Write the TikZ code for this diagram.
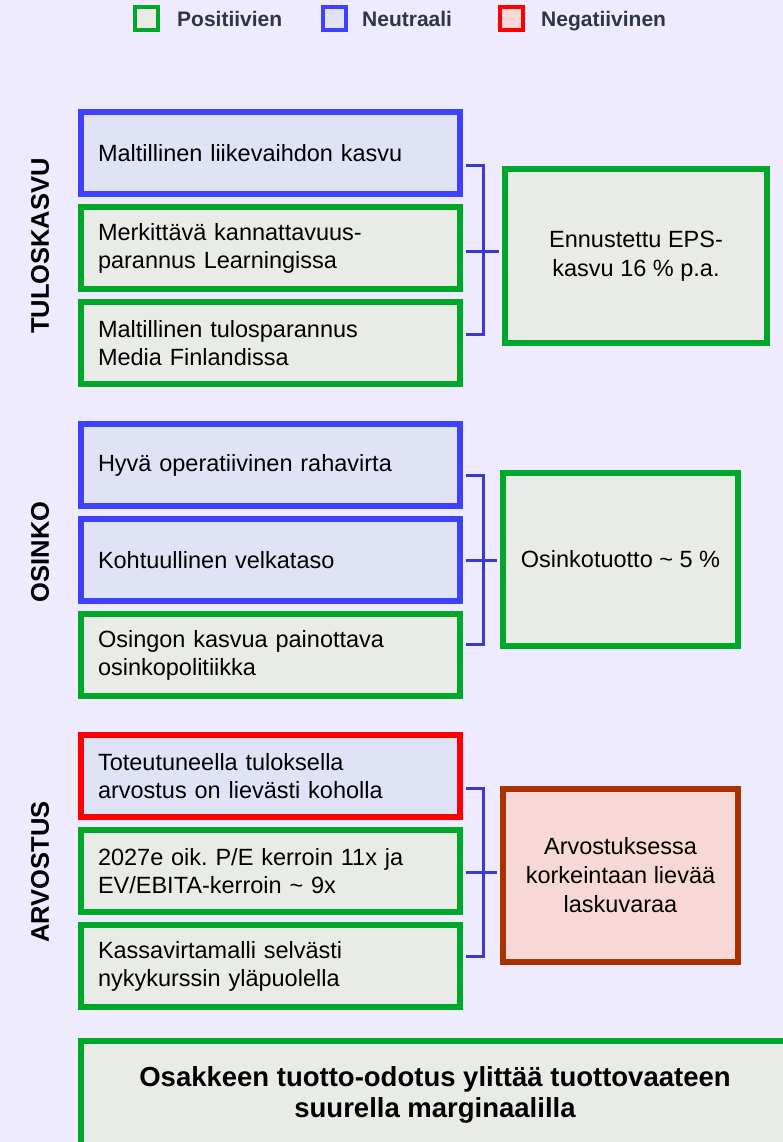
\documentclass[tikz,border=0pt]{standalone}
\usepackage{fontspec}
\setmainfont{Liberation Sans}
\usetikzlibrary{positioning}
\frenchspacing

\definecolor{bgcol}{HTML}{EDEBFD}
\definecolor{posline}{HTML}{00A82A}
\definecolor{posfill}{HTML}{E9ECE6}
\definecolor{neuline}{HTML}{4040FF}
\definecolor{neufill}{HTML}{E0E3F5}
\definecolor{negline}{HTML}{FF0000}
\definecolor{negfill}{HTML}{F8D8D6}
\definecolor{resline}{HTML}{A83200}
\definecolor{linkcol}{HTML}{3A3AD0}
\definecolor{legtext}{HTML}{2F3541}

\begin{document}
\begin{tikzpicture}[
      x=1pt, y=-1pt, node distance=95pt, on grid,
      fact/.style={rectangle, line width=6pt, minimum width=379pt, minimum height=82pt,
        text width=345pt, inner xsep=17pt, align=left, font=\fontsize{23.5}{28}\selectfont},
      posbox/.style={fact, draw=posline, fill=posfill},
      neubox/.style={fact, draw=neuline, fill=neufill},
      negbox/.style={fact, draw=negline, fill=neufill},
      result/.style={rectangle, line width=6pt, minimum width=235pt, minimum height=173pt,
        align=center, draw=posline, fill=posfill, font=\fontsize{23.5}{29}\selectfont},
      side/.style={rotate=90, font=\fontsize{25.5}{28}\selectfont\bfseries},
      legbox/.style={rectangle, line width=4pt, minimum size=23pt, inner sep=0pt},
      legtxt/.style={anchor=base west, inner sep=0pt, text=legtext, font=\fontsize{21}{24}\selectfont\bfseries},
      link/.style={draw=linkcol, line width=3pt, shorten <=3pt, shorten >=3pt},
      ]

      \fill[bgcol] (0,0) rectangle (783,1142);
      \useasboundingbox (0,0) rectangle (783,1142);
      \clip (0,0) rectangle (783,1142);

      % legend
      \node[legbox, draw=posline, fill=posfill] (lpos) at (146.5,18.5) {};
      \node[legtxt] (lpostxt) at (177,26.5) {Positiivien};
      \node[legbox, draw=neuline, fill=neufill] (lneu) at (334,18.5) {};
      \node[legtxt] (lneutxt) at (362,26.5) {Neutraali};
      \node[legbox, draw=negline, fill=negfill] (lneg) at (511.5,18.5) {};
      \node[legtxt] (lnegtxt) at (541,26.5) {Negatiivinen};

      % tuloskasvu
      \node[neubox] (kas1) at (270.5,153) {Maltillinen liikevaihdon kasvu};
      \node[posbox] (kas2) [below=of kas1] {Merkittävä kannattavuus-\\parannus Learningissa};
      \node[posbox] (kas3) [below=of kas2] {Maltillinen tulosparannus\\Media Finlandissa};
      \node[result, minimum width=262pt] (eps) at (636,256) {Ennustettu EPS-\\kasvu 16 \% p.a.};
      \node[side] (tulos) at (40,246) {TULOSKASVU};

      % osinko
      \node[neubox] (osi1) at (270.5,465) {Hyvä operatiivinen rahavirta};
      \node[neubox] (osi2) [below=of osi1] {Kohtuullinen velkataso};
      \node[posbox] (osi3) [below=of osi2] {Osingon kasvua painottava\\osinkopolitiikka};
      \node[result] (tuotto) at (620.5,559.5) {Osinkotuotto \textasciitilde{} 5 \%};
      \node[side] (osinko) at (40,552) {OSINKO};

      % arvostus
      \node[negbox] (arv1) at (270.5,776) {Toteutuneella tuloksella\\arvostus on lievästi koholla};
      \node[posbox] (arv2) [below=of arv1] {2027e oik. P/E kerroin 11x ja\\EV/EBITA-kerroin \textasciitilde{} 9x};
      \node[posbox] (arv3) [below=of arv2] {Kassavirtamalli selvästi\\nykykurssin yläpuolella};
      \node[result, draw=resline, fill=negfill] (vara) at (620.5,875) {Arvostuksessa\\korkeintaan lievää\\laskuvaraa};
      \node[side] (arvo) at (40,872) {ARVOSTUS};

      % yhteenveto
      \node[rectangle, line width=6pt, draw=posline, fill=posfill, minimum width=708pt,
        minimum height=108pt, align=center, font=\fontsize{27.5}{31}\selectfont\bfseries]
        (summa) at (435,1095) {Osakkeen tuotto-odotus ylittää tuottovaateen\\suurella marginaalilla};

      % links
      \draw[link] ([yshift=-13pt]kas1.east) -| ([xshift=20pt,yshift=9pt]kas3.east) -- ([yshift=9pt]kas3.east);
      \draw[link] ([yshift=-3pt]kas2.east) -- ([yshift=-3pt]kas2.east -| eps.west);
      \draw[link] ([yshift=-10pt]osi1.east) -| ([xshift=20pt,yshift=11pt]osi3.east) -- ([yshift=11pt]osi3.east);
      \draw[link] (osi2.east) -- (osi2.east -| tuotto.west);
      \draw[link] ([yshift=-12pt]arv1.east) -| ([xshift=20pt,yshift=10pt]arv3.east) -- ([yshift=10pt]arv3.east);
      \draw[link] ([yshift=-1.5pt]arv2.east) -- ([yshift=-1.5pt]arv2.east -| vara.west);
    \end{tikzpicture}
\end{document}
